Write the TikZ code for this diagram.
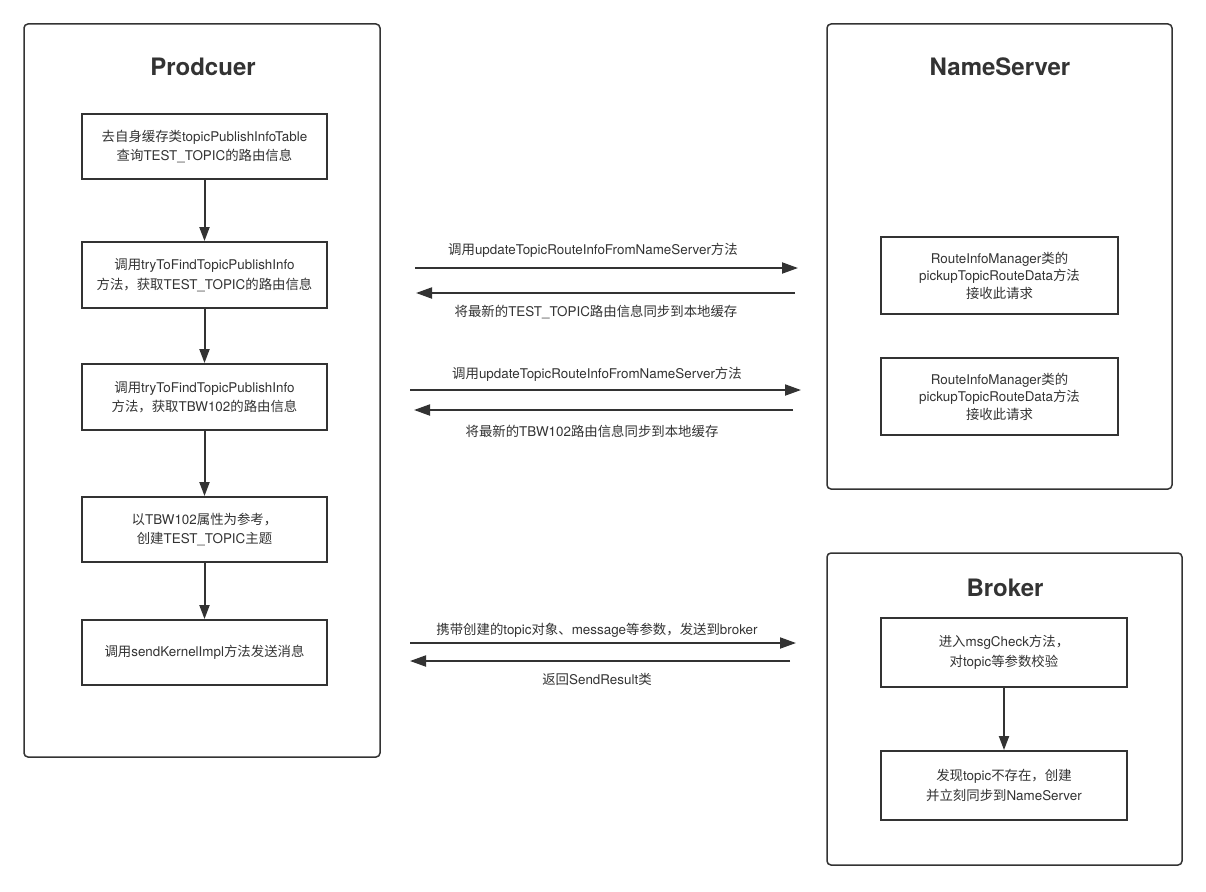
\documentclass[tikz,border=0pt]{standalone}
\usepackage{fontspec}
\setmainfont{TeX Gyre Heros}
\newfontfamily\cjkfont{Noto Sans CJK SC}
\newfontfamily\latinfont{TeX Gyre Heros}
\XeTeXinterchartokenstate=1
\newXeTeXintercharclass\cjkcls
\count255="3000
\loop\ifnum\count255<"A000 \XeTeXcharclass\count255=\cjkcls \advance\count255 by 1 \repeat
\count255="FF00
\loop\ifnum\count255<"FFF0 \XeTeXcharclass\count255=\cjkcls \advance\count255 by 1 \repeat
\XeTeXinterchartoks 0 \cjkcls = {\cjkfont}
\XeTeXinterchartoks 4095 \cjkcls = {\cjkfont}
\XeTeXinterchartoks \cjkcls 0 = {\latinfont}
\XeTeXinterchartoks \cjkcls 4095 = {\latinfont}
\usetikzlibrary{arrows.meta}
\definecolor{ink}{HTML}{333333}
\definecolor{txt}{HTML}{333333}
\tikzset{
  cont/.style={draw=ink, line width=1.5pt, rounded corners=4pt, inner sep=0pt},
  ttl/.style={font=\fontsize{24}{28}\selectfont\bfseries, text=txt, inner sep=0pt},
  stepbox/.style={draw=ink, line width=1.9pt, inner sep=0pt, align=center, text=txt,
    font=\fontsize{13.4}{19.5}\selectfont},
  nsbox/.style={draw=ink, line width=1.9pt, inner sep=0pt, align=center, text=txt,
    font=\fontsize{13.4}{17.5}\selectfont},
  flow/.style={draw=ink, line width=2pt, -{Triangle[length=14pt,width=10pt]}},
  msg/.style={draw=ink, line width=1.9pt, -{Triangle[length=16pt,width=11pt]}},
  lbl/.style={text=txt, font=\fontsize{13.4}{15}\selectfont, inner sep=0pt},
}
\begin{document}
\begin{tikzpicture}[x=1pt,y=-1pt]
\useasboundingbox[fill=white] (0,0) rectangle (1206,891);

% Producer
\node[cont, minimum width=356pt, minimum height=733pt] (prod) at (202,390.5) {};
\node[ttl] (prodt) at (203,67) {Prodcuer};
\node[stepbox, minimum width=245pt, minimum height=65pt] (p1) at (204.5,146.5)
  {去自身缓存类topicPublishInfoTable\\查询TEST\_TOPIC的路由信息};
\node[stepbox, minimum width=245pt, minimum height=66pt] (p2) at (204.5,275)
  {调用tryToFindTopicPublishInfo\\方法，获取TEST\_TOPIC的路由信息};
\node[stepbox, minimum width=245pt, minimum height=66pt] (p3) at (204.5,397)
  {调用tryToFindTopicPublishInfo\\方法，获取TBW102的路由信息};
\node[stepbox, minimum width=245pt, minimum height=65pt] (p4) at (204.5,529.5)
  {以TBW102属性为参考，\\创建TEST\_TOPIC主题};
\node[stepbox, minimum width=245pt, minimum height=65pt] (p5) at (204.5,652.5)
  {调用sendKernelImpl方法发送消息};
\draw[flow] (p1) -- (p2);
\draw[flow] (p2) -- (p3);
\draw[flow] (p3) -- (p4);
\draw[flow] (p4) -- (p5);

% NameServer
\node[cont, minimum width=345pt, minimum height=465pt] (ns) at (999.5,256.5) {};
\node[ttl] (nst) at (1000,67) {NameServer};
\node[nsbox, minimum width=237pt, minimum height=77pt] (n1) at (999.5,275.5)
  {RouteInfoManager类的\\pickupTopicRouteData方法\\接收此请求};
\node[nsbox, minimum width=237pt, minimum height=77pt] (n2) at (999.5,396.5)
  {RouteInfoManager类的\\pickupTopicRouteData方法\\接收此请求};

% Broker
\node[cont, minimum width=355pt, minimum height=312pt] (br) at (1004.5,709) {};
\node[ttl] (brt) at (1005,588) {Broker};
\node[stepbox, minimum width=246pt, minimum height=69pt] (b1) at (1004,652.5)
  {进入msgCheck方法，\\对topic等参数校验};
\node[stepbox, minimum width=246pt, minimum height=69pt] (b2) at (1004,785.5)
  {发现topic不存在，创建\\并立刻同步到NameServer};
\draw[flow] (b1) -- (b2);

% Messages
\coordinate (a1s) at (415,268); \coordinate (a1e) at (798,268);
\coordinate (a2s) at (795,293); \coordinate (a2e) at (416,293);
\coordinate (a3s) at (410,390); \coordinate (a3e) at (801,390);
\coordinate (a4s) at (793,410); \coordinate (a4e) at (414,410);
\coordinate (a5s) at (410,643); \coordinate (a5e) at (796,643);
\coordinate (a6s) at (790,661); \coordinate (a6e) at (410,661);
\draw[msg] (a1s) -- (a1e);
\draw[msg] (a2s) -- (a2e);
\draw[msg] (a3s) -- (a3e);
\draw[msg] (a4s) -- (a4e);
\draw[msg] (a5s) -- (a5e);
\draw[msg] (a6s) -- (a6e);
\node[lbl] (l1) at (593,250) {调用updateTopicRouteInfoFromNameServer方法};
\node[lbl] (l2) at (596,312) {将最新的TEST\_TOPIC路由信息同步到本地缓存};
\node[lbl] (l3) at (597,374) {调用updateTopicRouteInfoFromNameServer方法};
\node[lbl] (l4) at (592,431) {将最新的TBW102路由信息同步到本地缓存};
\node[lbl] (l5) at (597,630) {携带创建的topic对象、message等参数，发送到broker};
\node[lbl] (l6) at (597,679) {返回SendResult类};
\end{tikzpicture}
\end{document}
